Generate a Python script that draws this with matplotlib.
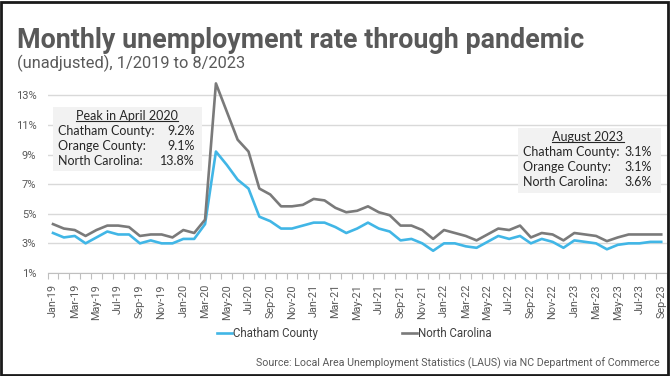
import matplotlib.pyplot as plt
from matplotlib.patches import Rectangle
from matplotlib.lines import Line2D

months = ['Jan-19', 'Feb-19', 'Mar-19', 'Apr-19', 'May-19', 'Jun-19', 'Jul-19', 'Aug-19', 'Sep-19', 'Oct-19', 'Nov-19', 'Dec-19',
          'Jan-20', 'Feb-20', 'Mar-20', 'Apr-20', 'May-20', 'Jun-20', 'Jul-20', 'Aug-20', 'Sep-20', 'Oct-20', 'Nov-20', 'Dec-20',
          'Jan-21', 'Feb-21', 'Mar-21', 'Apr-21', 'May-21', 'Jun-21', 'Jul-21', 'Aug-21', 'Sep-21', 'Oct-21', 'Nov-21', 'Dec-21',
          'Jan-22', 'Feb-22', 'Mar-22', 'Apr-22', 'May-22', 'Jun-22', 'Jul-22', 'Aug-22', 'Sep-22', 'Oct-22', 'Nov-22', 'Dec-22',
          'Jan-23', 'Feb-23', 'Mar-23', 'Apr-23', 'May-23', 'Jun-23', 'Jul-23', 'Aug-23', 'Sep-23']

chatham = [3.7, 3.4, 3.5, 3.0, 3.4, 3.8, 3.6, 3.6, 3.0, 3.2, 3.0, 3.0,
           3.3, 3.3, 4.3, 9.2, 8.3, 7.3, 6.7, 4.8, 4.5, 4.0, 4.0, 4.2,
           4.4, 4.4, 4.1, 3.7, 4.0, 4.4, 4.0, 3.8, 3.2, 3.3, 3.0, 2.5,
           3.0, 3.0, 2.8, 2.7, 3.1, 3.5, 3.3, 3.5, 3.0, 3.3, 3.1, 2.7,
           3.2, 3.1, 3.0, 2.6, 2.9, 3.0, 3.0, 3.1, 3.1]

north_carolina = [4.3, 4.0, 3.9, 3.5, 3.9, 4.2, 4.2, 4.1, 3.5, 3.6, 3.6, 3.4,
                  3.9, 3.7, 4.6, 13.8, 11.9, 10.0, 9.2, 6.7, 6.3, 5.5, 5.5, 5.6,
                  6.0, 5.9, 5.4, 5.1, 5.2, 5.5, 5.1, 4.9, 4.2, 4.2, 3.9, 3.3,
                  3.9, 3.7, 3.5, 3.2, 3.6, 4.0, 3.9, 4.2, 3.4, 3.7, 3.6, 3.2,
                  3.7, 3.6, 3.5, 3.15, 3.4, 3.6, 3.6, 3.6, 3.6]

peak_rows = [('Chatham County:', '9.2%'), ('Orange County:', '9.1%'), ('North Carolina:', '13.8%')]
aug_rows = [('Chatham County:', '3.1%'), ('Orange County:', '3.1%'), ('North Carolina:', '3.6%')]

BLUE = '#41b6e6'
GRAY = '#7a7a7a'
TXT = '#595959'
NARROW = 'Roboto'

fig = plt.figure(figsize=(6.7, 3.76), dpi=100)
ax = fig.add_axes([0.071, 0.274, 0.924, 0.512])

x = list(range(len(months)))
ax.plot(x, chatham, color=BLUE, lw=1.9, label='Chatham County')
ax.plot(x, north_carolina, color=GRAY, lw=1.9, label='North Carolina')

ax.set_xlim(-0.5, len(months) - 0.5)
ax.set_ylim(1, 14)
ax.set_yticks([1, 3, 5, 7, 9, 11, 13])
ax.set_yticklabels([f'{v}%' for v in [1, 3, 5, 7, 9, 11, 13]], fontfamily=NARROW, fontsize=8, color=TXT)
ax.yaxis.grid(True, color='#d9d9d9', lw=1)
ax.set_axisbelow(True)
ax.tick_params(axis='y', length=0, pad=8)

ax.set_xticks(x[::2])
ax.set_xticklabels(months[::2], rotation=90, fontfamily=NARROW, fontsize=7.8, color=TXT)
ax.set_xticks([i - 0.5 for i in range(len(months) + 1)], minor=True)
ax.tick_params(axis='x', which='major', length=0, pad=8)
ax.tick_params(axis='x', which='minor', length=4, color='#bfbfbf', width=0.8)

for s in ['top', 'right', 'left']:
    ax.spines[s].set_visible(False)
ax.spines['bottom'].set_color('#bfbfbf')
ax.spines['bottom'].set_linewidth(0.8)

# annotation boxes
def info_box(x0, y0, x1, y1, header, rows, hx, hy, lx, rx, row_y):
    W, H = 670, 376
    fig.patches.append(Rectangle((x0 / W, 1 - y1 / H), (x1 - x0) / W, (y1 - y0) / H,
                                 transform=fig.transFigure, facecolor='#f2f2f2', edgecolor='none', zorder=3))
    t = fig.text(hx / W, 1 - hy / H, header, ha='center', va='center', fontsize=9, family='Lato', color='#262626', zorder=4)
    for (lab, val), yy in zip(rows, row_y):
        fig.text(lx / W, 1 - yy / H, lab, ha='left', va='center', fontsize=9, family='Lato', color='#262626', zorder=4)
        fig.text(rx / W, 1 - yy / H, val, ha='right', va='center', fontsize=9, family='Lato', color='#262626', zorder=4)
    return t

h1 = info_box(53, 107, 202, 171, 'Peak in April 2020', peak_rows, 127, 116, 58, 195, [131, 146, 161])
h2 = info_box(518, 128, 661, 193, 'August 2023', aug_rows, 588, 137, 523, 652, [152, 167, 182])

fig.text(17 / 670, 1 - 48 / 376, 'Monthly unemployment rate through pandemic', fontsize=19.4, fontweight='bold',
         family=NARROW, color=TXT, va='baseline', ha='left')
fig.text(17 / 670, 1 - 68 / 376, '(unadjusted), 1/2019 to 8/2023', fontsize=11.8, family=NARROW,
         color=TXT, va='baseline', ha='left')

fig.legend(loc='center', bbox_to_anchor=(0.529, 0.114), ncol=2, frameon=False, handlelength=1.3,
           handletextpad=0.1, columnspacing=7.3, prop={'family': NARROW, 'size': 8.3})
for t in fig.legends[0].get_texts():
    t.set_color('#404040')

fig.text(660 / 670, 1 - 363 / 376, 'Source: Local Area Unemployment Statistics (LAUS) via NC Department of Commerce',
         fontsize=7.7, family=NARROW, color=TXT, ha='right', va='center')

fig.patches.append(Rectangle((0.002, 0.003), 0.995, 0.993, transform=fig.transFigure, fill=False,
                             edgecolor='#1a1a1a', lw=2, zorder=10))

# underline the box headers
fig.canvas.draw()
inv = fig.transFigure.inverted()
for h in [h1, h2]:
    bb = h.get_window_extent()
    (a0, b0), (a1, b1) = inv.transform([(bb.x0, bb.y0 + 1), (bb.x1, bb.y0 + 1)])
    fig.add_artist(Line2D([a0, a1], [b0, b1], color='#262626', lw=0.8, zorder=5))

fig.savefig('out.png', dpi=100)
